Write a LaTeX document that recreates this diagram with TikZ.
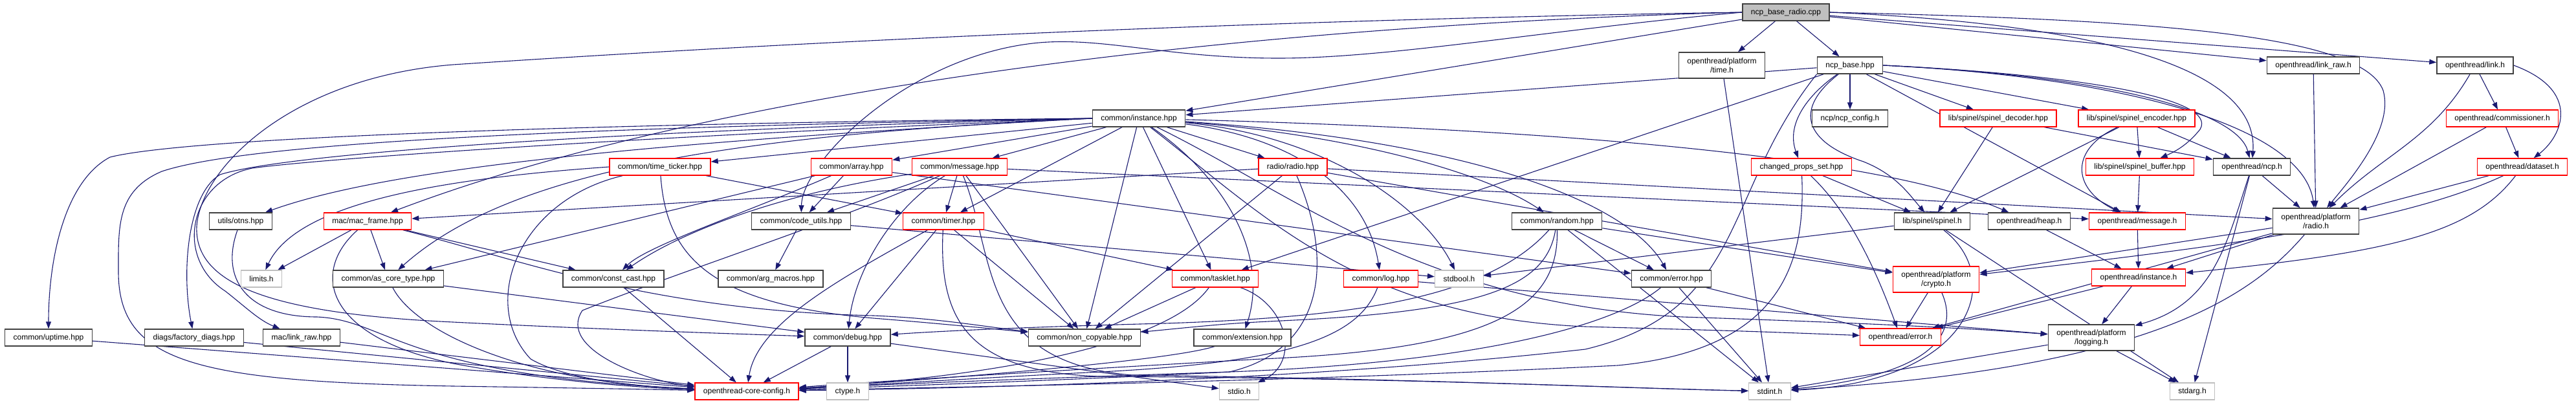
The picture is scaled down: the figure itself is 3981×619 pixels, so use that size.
\documentclass[tikz,border=0pt]{standalone}
\usepackage{fontspec}
\setmainfont{Liberation Sans}
\usetikzlibrary{arrows.meta,backgrounds}
\definecolor{edgeblue}{HTML}{191970}
\definecolor{boxgrey}{HTML}{BFBFBF}
\tikzset{
  hdr/.style={draw=black!75,line width=1.4pt,fill=white,inner xsep=13pt,inner ysep=4pt,minimum height=26pt,font=\fontsize{12}{14}\selectfont,align=center},
  hdrred/.style={hdr,draw=red},
  hdrsys/.style={hdr,draw=boxgrey},
  twoline/.style={minimum height=40pt},
  dep/.style={edgeblue,line width=1.1pt,-{Triangle[length=11pt,width=8pt]}},
}
\begin{document}
\begin{tikzpicture}[x=1pt,y=-1pt]
\useasboundingbox (0,0) rectangle (3981,619);
% rows of headers, top to bottom
\node[hdr,fill=boxgrey] (root) at (2760,19) {ncp\_base\_radio.cpp};
\node[hdr,twoline] (pftime) at (2661,101) {openthread/platform\\/time.h};
\node[hdr] (ncpbase) at (2859,101) {ncp\_base.hpp};
\node[hdr] (otlinkraw) at (3575,101) {openthread/link\_raw.h};
\node[hdr] (otlink) at (3825,101) {openthread/link.h};
\node[hdr] (inst) at (1760,183) {common/instance.hpp};
\node[hdr] (ncpcfg) at (2859,183) {ncp/ncp\_config.h};
\node[hdrred] (spdec) at (3088,183) {lib/spinel/spinel\_decoder.hpp};
\node[hdrred] (spenc) at (3302,183) {lib/spinel/spinel\_encoder.hpp};
\node[hdrred] (otcomm) at (3867,183) {openthread/commissioner.h};
\node[hdrred] (ticker) at (1020,258) {common/time\_ticker.hpp};
\node[hdrred] (array) at (1316,258) {common/array.hpp};
\node[hdrred] (msg) at (1483,258) {common/message.hpp};
\node[hdrred] (radio) at (1998,258) {radio/radio.hpp};
\node[hdrred] (chprops) at (2784,258) {changed\_props\_set.hpp};
\node[hdrred] (spbuf) at (3307,258) {lib/spinel/spinel\_buffer.hpp};
\node[hdr] (otncp) at (3480,258) {openthread/ncp.h};
\node[hdrred] (otdata) at (3898,258) {openthread/dataset.h};
\node[hdr] (otns) at (372,342) {utils/otns.hpp};
\node[hdrred] (macframe) at (568,342) {mac/mac\_frame.hpp};
\node[hdr] (codeutil) at (1238,342) {common/code\_utils.hpp};
\node[hdrred] (timer) at (1458,342) {common/timer.hpp};
\node[hdr] (random) at (2406,342) {common/random.hpp};
\node[hdr] (spinel) at (2986,342) {lib/spinel/spinel.h};
\node[hdr] (otheap) at (3136,342) {openthread/heap.h};
\node[hdrred] (otmsg) at (3303,342) {openthread/message.h};
\node[hdr,twoline] (pfradio) at (3579,342) {openthread/platform\\/radio.h};
\node[hdrsys] (limits) at (404,431) {limits.h};
\node[hdr] (ascore) at (600,431) {common/as\_core\_type.hpp};
\node[hdr] (constcast) at (948,431) {common/const\_cast.hpp};
\node[hdr] (argmacros) at (1191,431) {common/arg\_macros.hpp};
\node[hdrred] (tasklet) at (1878,431) {common/tasklet.hpp};
\node[hdrred] (log) at (2134,431) {common/log.hpp};
\node[hdrsys] (stdbool) at (2255,431) {stdbool.h};
\node[hdr] (cerror) at (2583,431) {common/error.hpp};
\node[hdrred,twoline] (pfcrypto) at (2992,432) {openthread/platform\\/crypto.h};
\node[hdrred] (otinst) at (3305,429) {openthread/instance.h};
\node[hdr] (uptime) at (75,522) {common/uptime.hpp};
\node[hdr] (factory) at (300,522) {diags/factory\_diags.hpp};
\node[hdr] (linkraw) at (466,522) {mac/link\_raw.hpp};
\node[hdr] (debug) at (1310,522) {common/debug.hpp};
\node[hdr] (noncopy) at (1676,522) {common/non\_copyable.hpp};
\node[hdr] (extension) at (1920,522) {common/extension.hpp};
\node[hdrred] (oterr) at (2937,521) {openthread/error.h};
\node[hdr,twoline] (pflog) at (3232,522) {openthread/platform\\/logging.h};
\node[hdrred] (corecfg) at (1154,605) {openthread-core-config.h};
\node[hdrsys] (ctype) at (1310,605) {ctype.h};
\node[hdrsys] (stdio) at (1915,605) {stdio.h};
\node[hdrsys] (stdint) at (2735,605) {stdint.h};
\node[hdrsys] (stdarg) at (3388,605) {stdarg.h};
\begin{scope}[on background layer]
% ncp_base_radio.cpp
\draw[dep] (root) -- (pftime);
\draw[dep] (root) -- (ncpbase);
\draw[dep] (root) -- (inst);
\draw[dep] (root.west) .. controls (2400,45) and (2150,90) .. (1976,90) .. controls (1800,90) and (1700,55) .. (1596,67) .. controls (1400,90) and (1240,250) .. (codeutil);
\draw[dep] (root.west) .. controls (2000,30) and (1300,60) .. (700,100) .. controls (450,120) and (310,260) .. (304,350) .. controls (300,440) and (420,485) .. (700,498) .. controls (900,508) and (1100,515) .. (debug);
\draw[dep] (root.west) .. controls (1900,40) and (1100,140) .. (macframe);
\draw[dep] (root) -- (otlinkraw);
\draw[dep] (root) -- (otlink);
\draw[dep] (root.east) .. controls (3300,40) and (3490,120) .. (otncp);
\draw[dep] (root.east) .. controls (3300,30) and (3650,50) .. (3683,140) .. controls (3700,200) and (3630,280) .. (pfradio);
% ncp_base.hpp
\draw[dep] (ncpbase) -- (inst);
\draw[dep] (ncpbase) -- (ncpcfg);
\draw[dep] (ncpbase) to[out=215,in=110] (chprops);
\draw[dep] (ncpbase) .. controls (2770,170) and (2790,220) .. (2880,250) .. controls (2930,270) and (2950,300) .. (spinel);
\draw[dep] (ncpbase) -- (spdec);
\draw[dep] (ncpbase) -- (spenc);
\draw[dep] (ncpbase.east) .. controls (3200,115) and (3430,150) .. (3400,200) .. controls (3380,225) and (3360,235) .. (spbuf);
\draw[dep] (ncpbase) -- (otmsg);
\draw[dep] (ncpbase.east) .. controls (3300,120) and (3460,180) .. (otncp);
\draw[dep] (ncpbase.east) .. controls (3300,120) and (3560,200) .. (pfradio);
\draw[dep] (ncpbase) -- (tasklet);
\draw[dep] (ncpbase.south west) .. controls (2660,300) and (2700,480) .. (2450,540) .. controls (2000,590) and (1500,600) .. (corecfg);
% common/instance.hpp
\draw[dep] (inst.west) .. controls (1000,190) and (300,210) .. (170,243) .. controls (100,280) and (75,400) .. (uptime);
\draw[dep] (inst.west) .. controls (1000,200) and (450,235) .. (340,270) .. controls (290,300) and (280,420) .. (factory);
\draw[dep] (inst.west) .. controls (1000,210) and (500,245) .. (390,260) .. controls (290,280) and (270,400) .. (348,450) .. controls (380,475) and (400,495) .. (linkraw);
\draw[dep] (inst.west) .. controls (1000,195) and (400,215) .. (250,265) .. controls (180,295) and (183,350) .. (183,420) .. controls (183,560) and (300,590) .. (700,597) .. controls (900,600) and (1000,602) .. (corecfg);
\draw[dep] (inst.west) .. controls (1000,220) and (600,260) .. (otns);
\draw[dep] (inst.west) .. controls (1100,210) and (780,270) .. (ascore);
\draw[dep] (inst) -- (ticker);
\draw[dep] (inst) -- (array);
\draw[dep] (inst) -- (msg);
\draw[dep] (inst) -- (radio);
\draw[dep] (inst) -- (timer);
\draw[dep] (inst) -- (noncopy);
\draw[dep] (inst) -- (tasklet);
\draw[dep] (inst) .. controls (1900,280) and (1960,400) .. (extension);
\draw[dep] (inst) .. controls (1980,210) and (2110,280) .. (log);
\draw[dep] (inst) .. controls (2050,210) and (2200,320) .. (stdbool);
\draw[dep] (inst) .. controls (2100,210) and (2300,270) .. (random);
\draw[dep] (inst) .. controls (2300,220) and (2520,320) .. (cerror);
\draw[dep] (inst) .. controls (2400,200) and (2900,240) .. (otheap);
\draw[dep] (inst) .. controls (2000,300) and (2200,470) .. (2600,490) .. controls (2900,500) and (3050,508) .. (pflog);
\draw[dep] (inst) .. controls (1950,330) and (2100,490) .. (2450,505) .. controls (2700,512) .. (oterr);
% second row
\draw[dep] (ticker.west) .. controls (700,275) and (460,310) .. (limits);
\draw[dep] (ticker) -- (timer);
\draw[dep] (ticker) .. controls (1030,400) and (1100,470) .. (1350,492) .. controls (1450,500) and (1530,508) .. (noncopy);
\draw[dep] (ticker) .. controls (800,310) and (740,470) .. (820,555) .. controls (880,590) and (1000,598) .. (corecfg);
\draw[dep] (array) -- (codeutil);
\draw[dep] (array) -- (ascore);
\draw[dep] (array) .. controls (1150,330) and (1000,380) .. (constcast);
\draw[dep] (array) -- (cerror);
\draw[dep] (msg) -- (codeutil);
\draw[dep] (msg) -- (timer);
\draw[dep] (msg) .. controls (1200,300) and (1050,360) .. (constcast);
\draw[dep] (msg) -- (noncopy);
\draw[dep] (msg) .. controls (1380,320) and (1320,420) .. (debug);
\draw[dep] (msg) -- (otmsg);
\draw[dep] (msg) .. controls (1300,340) and (1050,420) .. (900,480) .. controls (860,540) and (1000,590) .. (corecfg);
\draw[dep] (msg) .. controls (1540,400) and (1510,560) .. (1750,580) .. controls (2200,586) and (2500,600) .. (stdint);
\draw[dep] (radio) -- (macframe);
\draw[dep] (radio) -- (noncopy);
\draw[dep] (radio) .. controls (2060,400) and (2050,540) .. (1900,575) .. controls (1600,590) and (1350,598) .. (corecfg);
\draw[dep] (radio) -- (pfradio);
\draw[dep] (radio) -- (pfcrypto);
\draw[dep] (chprops) -- (spinel);
\draw[dep] (chprops) .. controls (2860,330) and (2900,420) .. (oterr);
\draw[dep] (chprops) .. controls (2790,400) and (2760,540) .. (2500,565) .. controls (2000,590) and (1500,598) .. (corecfg);
% lib/spinel
\draw[dep] (spdec) -- (spinel);
\draw[dep] (spdec) -- (otncp);
\draw[dep] (spenc) -- (spbuf);
\draw[dep] (spenc) -- (spinel);
\draw[dep] (spenc) .. controls (3200,230) and (3200,290) .. (otmsg);
\draw[dep] (spenc) -- (otncp);
\draw[dep] (spbuf) -- (otmsg);
\draw[dep] (spinel) -- (stdbool);
\draw[dep] (spinel) .. controls (3100,430) and (3050,590) .. (stdint);
\draw[dep] (spinel) -- (stdarg);
% openthread public headers
\draw[dep] (otlinkraw) -- (pfradio);
\draw[dep] (otlink) -- (otcomm);
\draw[dep] (otlink.east) .. controls (3990,140) and (3960,210) .. (otdata);
\draw[dep] (otlink) to[out=240,in=45] (pfradio);
\draw[dep] (otcomm) -- (otdata);
\draw[dep] (otcomm) -- (pfradio);
\draw[dep] (otdata) -- (pfradio);
\draw[dep] (otdata) .. controls (3820,360) and (3700,390) .. (otinst);
\draw[dep] (otdata) .. controls (3700,350) and (3400,385) .. (pfcrypto);
\draw[dep] (otncp) -- (pfradio);
\draw[dep] (otncp) .. controls (3440,380) and (3420,470) .. (pflog);
\draw[dep] (otncp) -- (stdarg);
\draw[dep] (pfradio) -- (otinst);
\draw[dep] (pfradio) -- (pfcrypto);
\draw[dep] (pfradio) -- (oterr);
\draw[dep] (pfradio) .. controls (3470,470) and (3300,570) .. (stdint);
\draw[dep] (otheap) -- (otinst);
\draw[dep] (otmsg) -- (otinst);
\draw[dep] (otinst) -- (pflog);
\draw[dep] (otinst) -- (oterr);
\draw[dep] (pfcrypto) -- (oterr);
\draw[dep] (pfcrypto) .. controls (3030,520) and (2980,580) .. (stdint);
\draw[dep] (pflog) -- (stdint);
\draw[dep] (pflog) -- (stdarg);
\draw[dep] (pftime) -- (stdint);
% third row
\draw[dep] (otns) .. controls (340,430) and (380,490) .. (490,490) .. controls (600,495) and (620,580) .. (corecfg);
\draw[dep] (macframe) -- (limits);
\draw[dep] (macframe) -- (ascore);
\draw[dep] (macframe) -- (constcast);
\draw[dep] (macframe) .. controls (480,420) and (500,520) .. (700,562) .. controls (850,590) and (1000,600) .. (corecfg);
\draw[dep] (macframe) .. controls (800,400) and (1000,480) .. (1350,488) .. controls (1450,492) and (1520,505) .. (noncopy);
\draw[dep] (codeutil) -- (argmacros);
\draw[dep] (codeutil) -- (stdbool);
\draw[dep] (timer) -- (tasklet);
\draw[dep] (timer) -- (debug);
\draw[dep] (timer) -- (noncopy);
\draw[dep] (timer) .. controls (1300,430) and (1170,500) .. (corecfg);
\draw[dep] (timer) .. controls (1450,500) and (1500,575) .. (1700,582) .. controls (2200,585) and (2500,600) .. (stdint);
\draw[dep] (random) -- (cerror);
\draw[dep] (random) -- (stdint);
\draw[dep] (random) -- (pfcrypto);
\draw[dep] (random) .. controls (2300,460) and (2100,490) .. (1800,500) .. controls (1600,505) and (1450,512) .. (debug);
\draw[dep] (random) .. controls (2390,440) and (2300,480) .. (2000,495) .. controls (1900,500) .. (noncopy);
\draw[dep] (random) .. controls (2410,480) and (2300,540) .. (1950,555) .. controls (1600,575) and (1350,590) .. (corecfg);
% fourth row
\draw[dep] (ascore) .. controls (640,510) and (800,590) .. (corecfg);
\draw[dep] (ascore) -- (debug);
\draw[dep] (constcast) -- (corecfg);
\draw[dep] (tasklet) -- (noncopy);
\draw[dep] (tasklet) .. controls (1800,540) and (1500,585) .. (corecfg);
\draw[dep] (tasklet) .. controls (1990,470) and (2010,560) .. (stdio);
\draw[dep] (log) .. controls (2100,520) and (2000,560) .. (1700,575) .. controls (1500,585) and (1350,595) .. (corecfg);
\draw[dep] (log) -- (pflog);
\draw[dep] (cerror) -- (oterr);
\draw[dep] (cerror) -- (stdint);
\draw[dep] (cerror) .. controls (2500,500) and (2300,560) .. (1900,575) .. controls (1600,585) and (1350,595) .. (corecfg);
% bottom row
\draw[dep] (uptime) -- (corecfg);
\draw[dep] (factory) -- (corecfg);
\draw[dep] (linkraw) -- (corecfg);
\draw[dep] (debug) -- (corecfg);
\draw[dep] (debug) -- (ctype);
\draw[dep] (debug) -- (stdio);
\draw[dep] (extension) .. controls (1800,560) and (1400,590) .. (corecfg);
\end{scope}
\end{tikzpicture}
\end{document}
